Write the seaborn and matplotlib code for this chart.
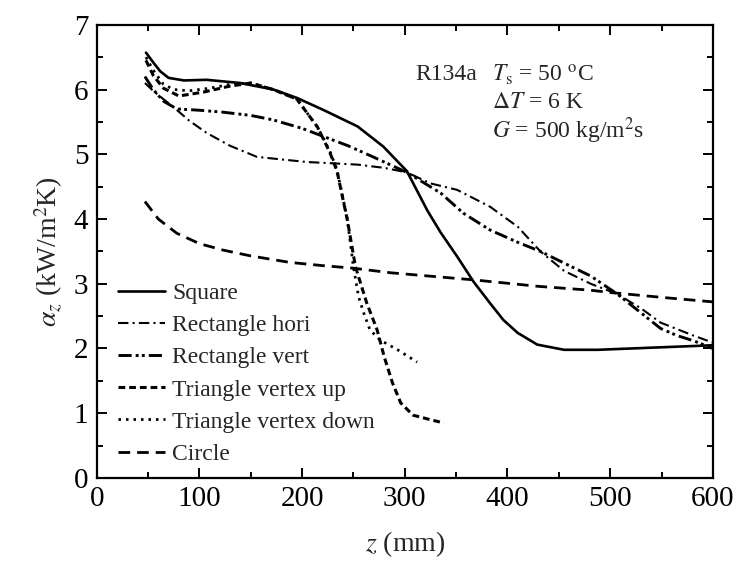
import pandas as pd
import seaborn as sns
from matplotlib import pyplot as plt
from matplotlib.ticker import MultipleLocator

sns.set_theme(style="ticks")
plt.rcParams["font.family"] = ["Liberation Serif", "DejaVu Serif"]
plt.rcParams["mathtext.fontset"] = "stix"

# values (z in mm, alpha in kW/m2K)
square_z = [48, 55, 62, 70, 85, 107, 140, 172, 195, 220, 254, 279, 302, 322, 335, 351,
            367, 383, 396, 410, 429, 455, 488, 520, 552, 600]
square_a = [6.57, 6.42, 6.28, 6.18, 6.14, 6.15, 6.10, 6.00, 5.87, 5.69, 5.43, 5.12, 4.74,
            4.13, 3.79, 3.42, 3.03, 2.70, 2.44, 2.24, 2.06, 1.98, 1.98, 2.00, 2.02, 2.05]

hori_z = [47, 55, 65, 74, 90, 107, 130, 156, 180, 205, 230, 254, 280, 302, 325, 351,
          383, 410, 432, 455, 481, 507, 530, 549, 581, 600]
hori_a = [6.10, 5.98, 5.85, 5.74, 5.52, 5.33, 5.13, 4.96, 4.92, 4.88, 4.86, 4.84, 4.79,
          4.72, 4.55, 4.45, 4.19, 3.88, 3.50, 3.20, 3.00, 2.84, 2.62, 2.40, 2.20, 2.09]

vert_z = [47, 55, 65, 78, 100, 123, 150, 172, 200, 220, 245, 269, 302, 335, 357, 383,
          410, 432, 455, 481, 507, 530, 549, 565, 581, 600]
vert_a = [6.20, 6.00, 5.82, 5.70, 5.68, 5.65, 5.60, 5.53, 5.40, 5.28, 5.13, 4.96, 4.72,
          4.40, 4.09, 3.83, 3.64, 3.50, 3.32, 3.12, 2.84, 2.55, 2.31, 2.20, 2.12, 2.00]

tri_up_z = [48, 55, 65, 80, 104, 129, 150, 172, 195, 215, 227, 234, 244, 252, 263, 273,
            280, 288, 296, 308, 325, 338]
tri_up_a = [6.45, 6.22, 6.02, 5.90, 5.96, 6.05, 6.10, 6.00, 5.85, 5.42, 5.03, 4.74, 3.99,
            3.26, 2.70, 2.29, 1.87, 1.47, 1.16, 0.97, 0.90, 0.85]

tri_down_z = [48, 55, 65, 75, 90, 110, 130, 150, 172, 195, 215, 227, 234, 244, 250, 255,
              260, 266, 276, 293, 312]
tri_down_a = [6.50, 6.30, 6.08, 6.00, 5.98, 6.02, 6.08, 6.10, 6.00, 5.85, 5.42, 5.05, 4.76,
              4.00, 3.26, 2.80, 2.55, 2.29, 2.13, 1.98, 1.79]

circle_z = [47, 60, 78, 100, 123, 150, 188, 220, 250, 286, 330, 367, 430, 481, 503, 550, 600]
circle_a = [4.27, 4.00, 3.78, 3.62, 3.52, 3.43, 3.33, 3.28, 3.24, 3.17, 3.11, 3.06, 2.96,
            2.90, 2.86, 2.79, 2.72]

series = [
    ("Square", square_z, square_a),
    ("Rectangle hori", hori_z, hori_a),
    ("Rectangle vert", vert_z, vert_a),
    ("Triangle vertex up", tri_up_z, tri_up_a),
    ("Triangle vertex down", tri_down_z, tri_down_a),
    ("Circle", circle_z, circle_a),
]
df = pd.concat(
    [pd.DataFrame({"z": z, "alpha": a, "shape": name}) for name, z, a in series],
    ignore_index=True,
)

styles = {
    "Square": ("-", 1.9),
    "Rectangle hori": ((0, (5, 2, 1, 2)), 1.5),
    "Rectangle vert": ((0, (4.5, 1.4, 1, 1.1, 1, 1.4)), 2.1),
    "Triangle vertex up": ((0, (2.2, 1.3)), 2.2),
    "Triangle vertex down": ((0, (0.9, 1.8)), 2.0),
    "Circle": ((0, (4.2, 2.5)), 2.0),
}

fig, ax = plt.subplots(figsize=(7.38, 5.63), dpi=100)
fig.subplots_adjust(left=0.131, right=0.966, bottom=0.151, top=0.956)

for name, _, _ in series:
    ls, lw = styles[name]
    sns.lineplot(data=df[df["shape"] == name], x="z", y="alpha", ax=ax, color="black",
                 linestyle=ls, linewidth=lw, label=name, sort=False, estimator=None)

ax.set_xlim(0, 600)
ax.set_ylim(0, 7)
ax.xaxis.set_major_locator(MultipleLocator(100))
ax.xaxis.set_minor_locator(MultipleLocator(50))
ax.yaxis.set_major_locator(MultipleLocator(1))
ax.yaxis.set_minor_locator(MultipleLocator(0.5))
ax.tick_params(which="both", direction="in", top=True, right=True, width=1.4,
               colors="black", labelsize=21, pad=6)
ax.tick_params(which="major", length=7)
ax.tick_params(which="minor", length=4)
for sp in ax.spines.values():
    sp.set_linewidth(1.6)
    sp.set_color("black")

ax.set_xlabel(r"$z$ (mm)", fontsize=20, labelpad=12)
ax.set_ylabel(r"$\alpha_z$ (kW/m$^2$K)", fontsize=20, labelpad=6)

ax.text(310, 6.23, "R134a", fontsize=17, va="center")
ax.text(385, 6.23, r"$T_\mathrm{s}$ = 50 $^\mathrm{o}$C", fontsize=17, va="center")
ax.text(385, 5.80, r"$\Delta T$ = 6 K", fontsize=17, va="center")
ax.text(385, 5.37, r"$G$ = 500 kg/m$^2$s", fontsize=17, va="center")

ax.legend(loc="lower left", bbox_to_anchor=(0.0, -0.018), frameon=False, fontsize=17,
          handlelength=2.0, labelspacing=0.45, handletextpad=0.3)

fig.savefig("out.png", dpi=100)
